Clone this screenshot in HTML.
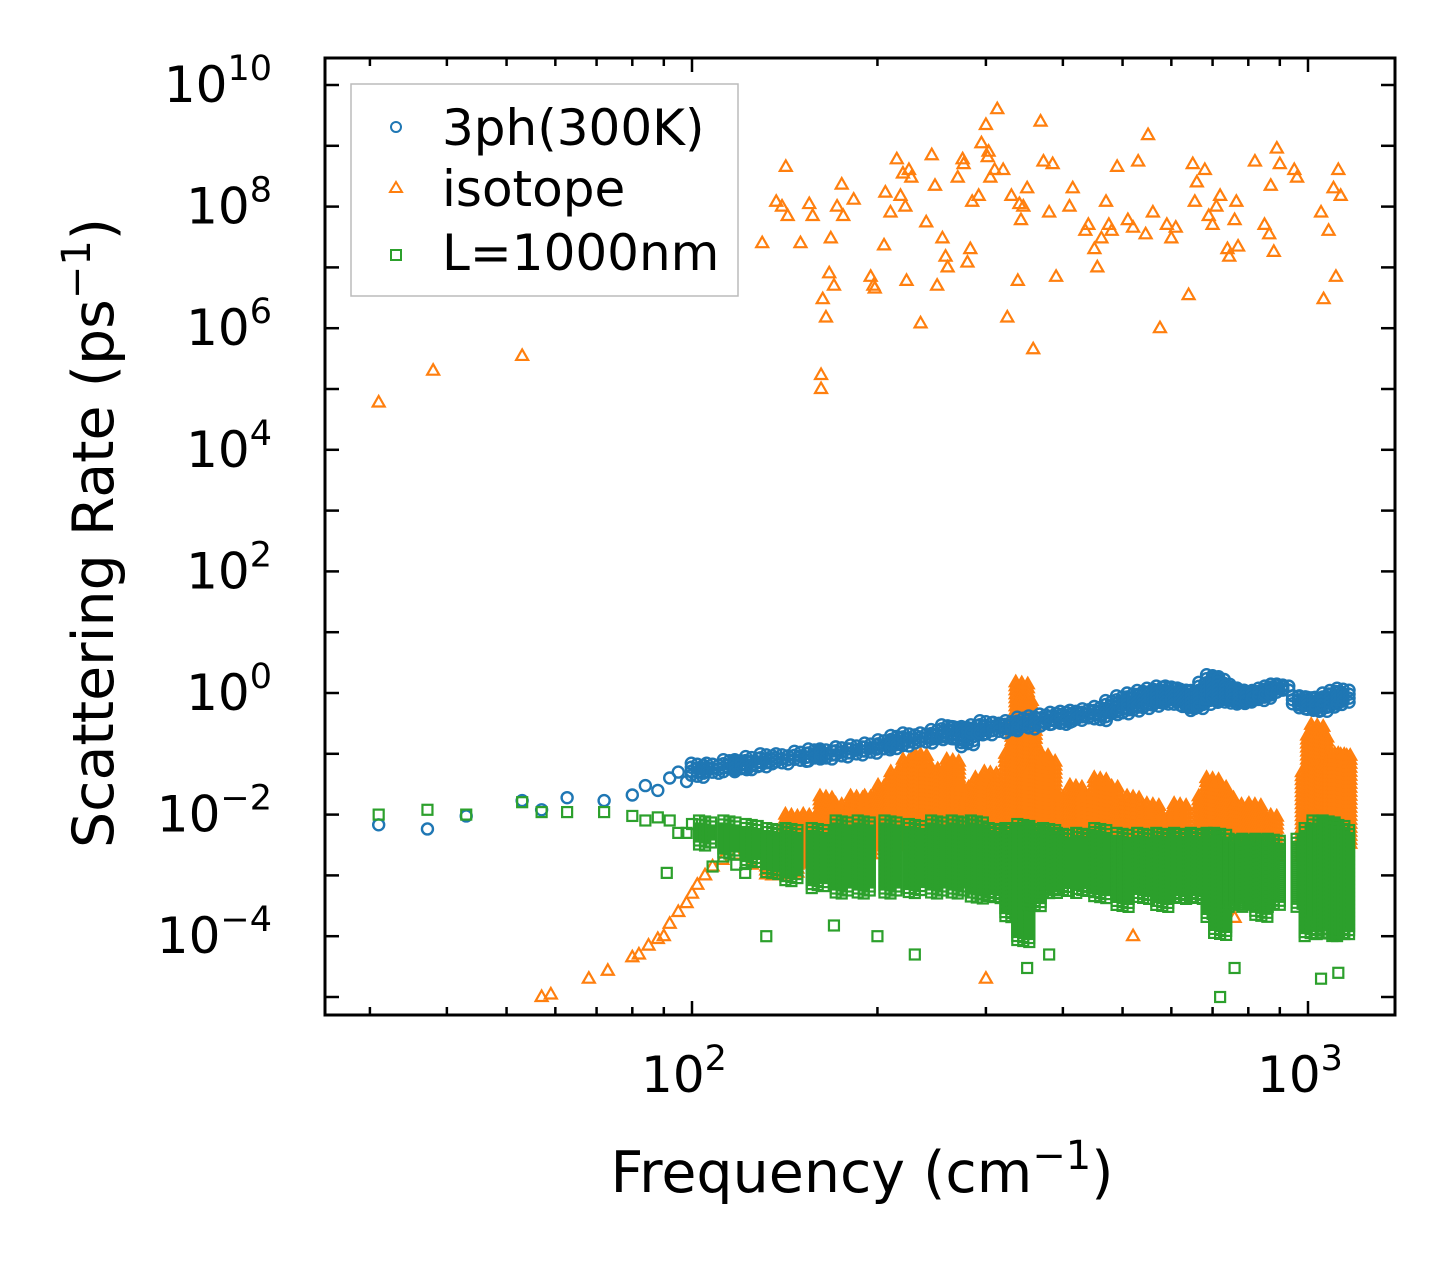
<!DOCTYPE html>
<html><head><meta charset="utf-8"><style>
html,body{margin:0;padding:0;background:#fff;}
svg{display:block;font-family:"DejaVu Sans","Liberation Sans",sans-serif;}
</style></head><body>
<svg id="chart" width="1455" height="1265" viewBox="0 0 1455 1265" xmlns="http://www.w3.org/2000/svg">
<rect x="0" y="0" width="1455" height="1265" fill="#fff"/>
<defs><clipPath id="clip"><rect x="325" y="58" width="1070" height="957"/></clipPath></defs>
<g id="marks" clip-path="url(#clip)"></g>
<g id="axes"></g>
<text x="862" y="1192" text-anchor="middle" font-size="57">Frequency (cm<tspan dy="-23" font-size="40">−1</tspan><tspan dy="23">)</tspan></text>
<text transform="translate(113,533) rotate(-90)" text-anchor="middle" font-size="57">Scattering Rate (ps<tspan dy="-23" font-size="40">−1</tspan><tspan dy="23">)</tspan></text>
<g>
<rect x="351" y="84" width="387" height="212" fill="#fff" stroke="#bbb" stroke-width="1.5"/>
<circle cx="396" cy="127" r="5" fill="none" stroke="#1f77b4" stroke-width="2"/>
<text x="442" y="145" font-size="50">3ph(300K)</text>
<polygon points="396,182 402,192 390,192" fill="none" stroke="#ff7f0e" stroke-width="2"/>
<text x="442" y="206" font-size="50">isotope</text>
<rect x="391" y="250" width="10" height="10" fill="none" stroke="#2ca02c" stroke-width="2"/>
<text x="442" y="270" font-size="50">L=1000nm</text>
</g>
</svg>
<script>
// ---- data ----
const blueFreq=[31,37.2,43,53,57,62.7,72,80,84,88,92,95,98];
const blueRate=[0.0068,0.0058,0.0095,0.017,0.012,0.019,0.017,0.021,0.03,0.025,0.04,0.05,0.035];
const blueBandFreq=[102,108,115,120,125,132,140,150,158,165,175,185,195,205,215,225,240,250,260,270,280,290,300,315,330,345,360,375,390,405,420,440,460,480,500,520,540,560,580,600,620,640,660,680,700,715,730,750,770,790,810,830,850,870,890,910,965,990,1020,1050,1080,1110,1140];
const blueBandLo=[0.04,0.045,0.05,0.05,0.055,0.06,0.065,0.07,0.075,0.08,0.085,0.09,0.1,0.11,0.12,0.13,0.14,0.16,0.17,0.16,0.13,0.2,0.2,0.21,0.22,0.25,0.25,0.28,0.3,0.3,0.32,0.35,0.33,0.4,0.45,0.5,0.55,0.6,0.65,0.7,0.6,0.55,0.5,0.6,0.7,0.75,0.7,0.65,0.7,0.65,0.7,0.75,0.8,0.9,1.0,1.0,0.6,0.55,0.5,0.5,0.55,0.6,0.65];
const blueBandHi=[0.07,0.07,0.08,0.08,0.09,0.1,0.1,0.11,0.12,0.12,0.13,0.14,0.15,0.17,0.2,0.22,0.22,0.25,0.3,0.28,0.28,0.3,0.35,0.33,0.35,0.4,0.42,0.45,0.48,0.5,0.52,0.55,0.6,0.75,0.9,1.0,1.1,1.2,1.3,1.3,1.2,1.1,1.1,1.5,2.0,1.8,1.5,1.3,1.2,1.1,1.0,1.1,1.2,1.3,1.4,1.4,0.9,0.9,0.85,0.85,1.0,1.1,1.2];
const isoFreq=[31,38,53,57,59,68,73,80,82,85,88,90,92,95,98,100,102,105,108,112,118,125,130,130,137,140,142,143,150,155,157,162,162,163,165,167,168,170,172,175,176,183,195,197,198,205,206,210,215,218,220,222,223,225,227,235,240,245,248,250,255,258,260,270,275,276,280,283,285,292,295,300,302,303,305,310,313,320,325,330,338,340,342,345,350,358,368,372,380,385,390,410,415,435,440,450,455,462,470,475,480,490,510,520,530,545,550,560,575,590,600,610,640,650,655,660,680,690,700,710,720,740,745,760,765,770,820,850,865,870,880,890,900,950,960,1050,1060,1080,1100,1110,1120,1130,300,520,700,760];
const isoRate=[6e4,2e5,3.5e5,1e-5,1.1e-5,2e-5,2.7e-5,4.5e-5,5e-5,7e-5,9e-5,1e-4,1.6e-4,2.5e-4,3.5e-4,5e-4,7e-4,1e-3,1.4e-3,1.8e-3,2.2e-3,1.5e-3,2.5e-3,2.5e7,1.2e8,1e8,4.5e8,7e7,2.5e7,1.1e8,7e7,1e5,1.7e5,3e6,1.5e6,8e6,3e7,5e6,1e8,2.3e8,7e7,1.3e8,7e6,5e6,4.5e6,2.3e7,1.7e8,8e7,6e8,1.5e8,3.5e8,1e8,6e6,4e8,3e8,1.2e6,5.5e7,7e8,2.2e8,5e6,3e7,1.5e7,1e7,3e8,6e8,5e8,1.2e7,2e7,1.2e8,1.5e8,1.1e9,2.2e9,6.5e8,8e8,3e8,4e8,4e9,4e8,1.5e6,1.5e8,6e6,1.1e8,6e7,1e8,2e8,4.5e5,2.5e9,5.5e8,8e7,5e8,7e6,1e8,2e8,4e7,5e7,2e7,1e7,3e7,1.2e8,5e7,4e7,4.5e8,6e7,4.5e7,5.5e8,3.5e7,1.5e9,8e7,1e6,5e7,3e7,4.5e7,3.5e6,5e8,1.2e8,2.5e8,4e8,7e7,5e7,1e8,1.5e8,2e7,1.5e7,6e7,1.2e8,2.2e7,5.5e8,5e7,3.5e7,2.2e8,1.8e7,9e8,5e8,4e8,3e8,8e7,3e6,4e7,2e8,7e6,4e8,1.5e8,2e-5,1e-4,3e-4,2e-4];
const isoBandFreq=[135,145,155,165,175,185,195,205,215,225,235,245,255,265,275,285,295,305,315,330,338,343,348,353,360,370,380,400,420,440,460,480,500,520,560,580,620,680,700,720,740,780,820,870,1000,1020,1035,1050,1080,1110,1130,1145];
const isoBandLo=[0.001,0.001,0.0015,0.002,0.002,0.002,0.002,0.003,0.003,0.003,0.003,0.003,0.003,0.003,0.003,0.003,0.003,0.003,0.003,0.002,0.002,0.002,0.002,0.002,0.002,0.003,0.003,0.003,0.003,0.003,0.003,0.003,0.003,0.003,0.003,0.003,0.002,0.002,0.002,0.002,0.002,0.002,0.002,0.002,0.002,0.003,0.003,0.003,0.003,0.003,0.003,0.003];
const isoBandHi=[0.003,0.01,0.01,0.02,0.015,0.02,0.02,0.03,0.05,0.08,0.1,0.06,0.05,0.08,0.03,0.02,0.04,0.05,0.03,0.1,0.3,1.5,0.8,0.3,0.05,0.1,0.08,0.02,0.03,0.02,0.04,0.03,0.015,0.02,0.015,0.01,0.015,0.02,0.04,0.03,0.02,0.015,0.015,0.01,0.05,0.2,0.3,0.2,0.06,0.08,0.1,0.1];
const bndFreq=[31,37.2,43,53,57,62.7,72,80,84,88,92,95,98,100,91,108,118,122,132,170,200,230,350,380,720,760,1050,1120];
const bndRate=[0.01,0.012,0.01,0.016,0.011,0.011,0.011,0.0095,0.008,0.009,0.008,0.005,0.005,0.007,0.0011,0.0014,0.0015,0.0011,0.0001,0.00015,0.0001,0.00005,0.00003,0.00005,0.00001,0.00003,0.00002,0.000025];
const bndBandFreq=[105,115,125,135,145,160,175,190,210,230,250,270,290,310,330,345,360,380,400,430,460,500,540,580,620,660,700,720,760,800,840,880,980,1010,1040,1080,1120,1140];
const bndBandLo=[0.003,0.002,0.0015,0.001,0.0008,0.0006,0.0005,0.0005,0.0005,0.0005,0.0005,0.0005,0.0004,0.0004,0.0002,0.00008,0.0003,0.0005,0.0005,0.0005,0.0004,0.0003,0.0004,0.0003,0.0004,0.0004,0.0002,0.0001,0.0003,0.0003,0.0002,0.0003,0.0003,0.0001,0.0002,0.0001,0.0001,0.0001];
const bndBandHi=[0.008,0.008,0.007,0.006,0.006,0.006,0.008,0.008,0.008,0.007,0.008,0.008,0.008,0.006,0.006,0.007,0.006,0.006,0.005,0.005,0.006,0.005,0.005,0.005,0.005,0.005,0.005,0.005,0.004,0.004,0.004,0.004,0.004,0.006,0.008,0.008,0.007,0.006];
const xTickVals=[100,1000];
const xTickLabels=["2","3"];
const yTickVals=[1e-4,1e-2,1,1e2,1e4,1e6,1e8,1e10];
const yTickLabels=["−4","−2","0","2","4","6","8","10"];
// ---- scales ----
const X=f=>692+616*(Math.log10(f)-2);
const Y=v=>693-60.8*Math.log10(v);
const NS="http://www.w3.org/2000/svg";
const marks=document.getElementById('marks'), axes=document.getElementById('axes');
const BLUE="#1f77b4",ORANGE="#ff7f0e",GREEN="#2ca02c";
function mk(tag,attrs){const e=document.createElementNS(NS,tag);for(const k in attrs)e.setAttribute(k,attrs[k]);return e;}
function circle(cx,cy,name){const e=mk('circle',{cx:cx,cy:cy,r:5.5,fill:'none',stroke:BLUE,'stroke-width':2.4});


marks.appendChild(e);}
function tri(cx,cy,name){const e=mk('polygon',{points:`${cx},${cy-6.5} ${cx+6},${cy+4} ${cx-6},${cy+4}`,fill:'none',stroke:ORANGE,'stroke-width':2.2});


marks.appendChild(e);}
function sq(cx,cy,name){const e=mk('rect',{x:cx-5,y:cy-5,width:10,height:10,fill:'none',stroke:GREEN,'stroke-width':2.2});


marks.appendChild(e);}
function band(freqs,lo,hi,fn,name){
  freqs.forEach((f,i)=>{const x=X(f),y0=Y(hi[i]),y1=Y(lo[i]);
    [-6,0,6].forEach((dx,k)=>{for(let y=y0+k;y<=y1;y+=4)fn(x+dx,y,name);});});
}
band(isoBandFreq,isoBandLo,isoBandHi,tri,'isotope-point');
isoFreq.forEach((f,i)=>tri(X(f),Y(isoRate[i]),'isotope-point'));
band(blueBandFreq,blueBandLo,blueBandHi,circle,'3ph-point');
blueFreq.forEach((f,i)=>circle(X(f),Y(blueRate[i]),'3ph-point'));
band(bndBandFreq,bndBandLo,bndBandHi,sq,'boundary-point');
bndFreq.forEach((f,i)=>sq(X(f),Y(bndRate[i]),'boundary-point'));
// ---- axes ----
const frame=mk('rect',{x:325,y:58,width:1070,height:957,fill:'none',stroke:'#000','stroke-width':3});


axes.appendChild(frame);
function line(x1,y1,x2,y2,w,name){const e=mk('line',{x1,y1,x2,y2,stroke:'#000','stroke-width':w});


axes.appendChild(e);}
for(let d=1;d<=3;d++){for(let m=1;m<=9;m++){const f=m*Math.pow(10,d);const x=X(f);if(x<326||x>1394)continue;
  const L=(m===1)?14:8;line(x,1015,x,1015-L,2.5,'x-tick');line(x,58,x,58+L,2.5,'x-tick');}}
xTickVals.forEach((v,i)=>{const t=mk('text',{x:X(v)-8,y:1092,'text-anchor':'middle','font-size':50});t.innerHTML=`10<tspan dy="-22" font-size="35">${xTickLabels[i]}</tspan>`;


axes.appendChild(t);});
for(let d=-5;d<=10;d++){const y=Y(Math.pow(10,d));if(y<59||y>1014)continue;line(325,y,339,y,2.5,'y-tick');line(1395,y,1381,y,2.5,'y-tick');}
yTickVals.forEach((v,i)=>{const t=mk('text',{x:272,y:Y(v)+17,'text-anchor':'end','font-size':50});t.innerHTML=`10<tspan dy="-22" font-size="35">${yTickLabels[i]}</tspan>`;


axes.appendChild(t);});
</script>
</body></html>
